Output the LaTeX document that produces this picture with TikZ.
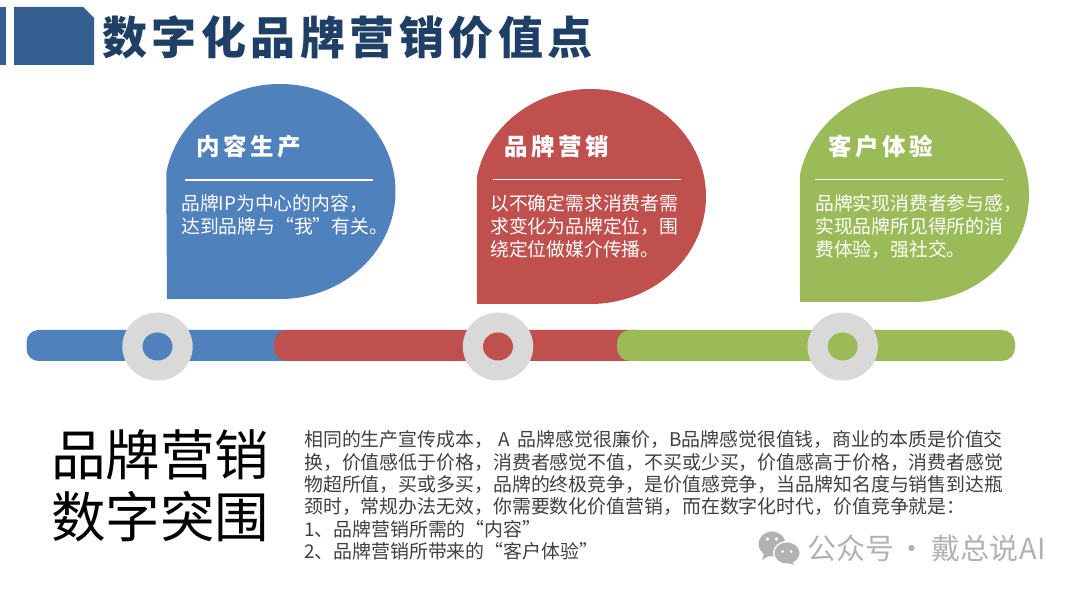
\documentclass[tikz,border=0pt]{standalone}
\usepackage{fontspec}
\setmainfont{Noto Sans CJK SC}
\newfontfamily\titlefont[LetterSpace=10]{Noto Sans CJK SC}
\newfontfamily\headfont[LetterSpace=15]{Noto Sans CJK SC}
\newfontfamily\markfont[LetterSpace=1]{Noto Sans CJK SC}
\definecolor{cblue}{HTML}{4F81BD}
\definecolor{cred}{HTML}{C0504D}
\definecolor{cgreen}{HTML}{9BBB59}
\definecolor{cring}{HTML}{D9D9D9}
\definecolor{ctitle}{HTML}{1F3F66}
\definecolor{cbar}{HTML}{365F91}
\definecolor{cpara}{HTML}{404040}
\definecolor{cmark}{HTML}{B2B2B2}
\tikzset{
  headtext/.style={text=white,inner sep=0pt,anchor=west,font=\headfont\bfseries\fontsize{23.5}{26}\selectfont},
  bodytext/.style={text=white,inner sep=0pt,anchor=north west,align=left,font=\fontsize{18.8}{23}\selectfont},
  rule/.style={draw=white,line width=1.2pt},
  outerring/.style={fill=cring},
}
\newcommand{\bubblepath}[6]{%
  \fill[#1] ({#2+#4*cos(170)},{#3+#5*sin(170)}) arc[start angle=170,end angle=-90,x radius=#4,y radius=#5] -- (#6,{#3-#5}) -- cycle;}
\newcommand{\ringat}[3]{%
  \fill[outerring] (#2,244.5) ellipse[x radius=35.2,y radius=34];
  \fill[#1] (#2,244.5) ellipse[x radius=#3,y radius=14];}
\begin{document}
\begin{tikzpicture}[x=1pt,y=1pt]
\useasboundingbox (0,0) rectangle (1080,591);
\fill[white] (0,0) rectangle (1080,591);
% header
\fill[cbar] (0,526) rectangle (6,584);
\fill[cbar] (14,526) -- (14,584) -- (83,584) -- (94,573) -- (94,526) -- cycle;
\node[inner sep=0pt,anchor=west,text=ctitle,font=\titlefont\bfseries\fontsize{45}{50}\selectfont] (title) at (102,554) {数字化品牌营销价值点};
% bubbles
\bubblepath{cblue}{280}{399.5}{115.5}{107.5}{167}
\bubblepath{cred}{590.5}{394.5}{115.5}{107.5}{477}
\bubblepath{cgreen}{913.5}{396.5}{115.5}{107.5}{800}
% rules
\coordinate (r1a) at (185,411); \coordinate (r1b) at (373,411);
\coordinate (r2a) at (493,411.5); \coordinate (r2b) at (681,411.5);
\coordinate (r3a) at (815,411.5); \coordinate (r3b) at (1003,411.5);
\draw[rule] (r1a) -- (r1b);
\draw[rule] (r2a) -- (r2b);
\draw[rule] (r3a) -- (r3b);
% headings
\node[headtext] (h1) at (196,444) {内容生产};
\node[headtext] (h2) at (504,444) {品牌营销};
\node[headtext] (h3) at (828,444) {客户体验};
% bodies
\node[bodytext] (b1) at (181,397) {品牌IP为中心的内容，\\达到品牌与“我”有关。};
\node[bodytext] (b2) at (490,397) {以不确定需求消费者需\\求变化为品牌定位，围\\绕定位做媒介传播。};
\node[bodytext] (b3) at (815,397) {品牌实现消费者参与感，\\实现品牌所见得所的消\\费体验，强社交。};
% bar
\fill[cblue,rounded corners=12pt] (26.5,230) rectangle (300,261);
\fill[cred,rounded corners=13pt] (274,230) rectangle (650,261);
\fill[cgreen,rounded corners=13pt] (617,230) rectangle (1015,261);
\ringat{cblue}{157.5}{15}
\ringat{cred}{498}{15}
\ringat{cgreen}{842.7}{15}
% big text
\node[inner sep=0pt,anchor=center,align=center,text=black,font=\fontsize{54.5}{62.5}\selectfont] (big) at (160.5,105) {品牌营销\\数字突围};
% paragraph
\node[inner sep=0pt,anchor=north west,align=left,text=cpara,font=\fontsize{18.9}{22.4}\selectfont] (para) at (304,160.5) {相同的生产宣传成本，\hspace{5pt}A\hspace{4pt} 品牌感觉很廉价，B品牌感觉很值钱，商业的本质是价值交\\换，价值感低于价格，消费者感觉不值，不买或少买，价值感高于价格，消费者感觉\\物超所值，买或多买，品牌的终极竞争，是价值感竞争，当品牌知名度与销售到达瓶\\颈时，常规办法无效，你需要数化价值营销，而在数字化时代，价值竞争就是：\\1、品牌营销所需的“内容”\\2、品牌营销所带来的“客户体验”};
% watermark icon
\fill[cmark] (772,47) ellipse[x radius=13.5,y radius=12.5];
\fill[cmark] (764,38) -- (762,31) -- (771,36) -- cycle;
\fill[white] (787,38) ellipse[x radius=14,y radius=12];
\fill[cmark] (787,38) ellipse[x radius=12.5,y radius=10.5];
\fill[cmark] (792,30) -- (794,26) -- (785,29) -- cycle;
\fill[white] (767.5,52) circle[radius=1.9];
\fill[white] (776.5,52) circle[radius=1.9];
\fill[white] (782.5,39.5) circle[radius=1.5];
\fill[white] (791,39.5) circle[radius=1.5];
\node[inner sep=0pt,anchor=west,text=cmark,font=\markfont\fontsize{29}{32}\selectfont] (mark) at (807,42.5) {公众号\hspace{-4pt} · \hspace{-2pt}戴总说AI};
\end{tikzpicture}
\end{document}
